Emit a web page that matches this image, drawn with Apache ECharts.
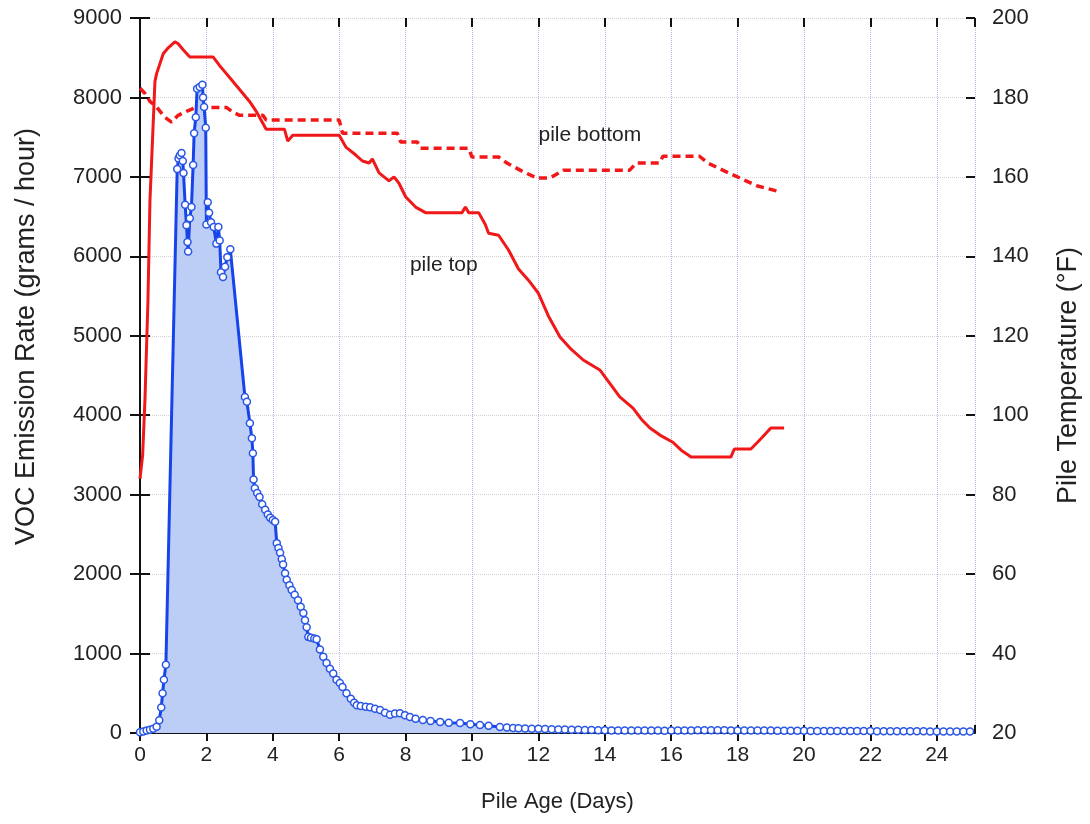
<!DOCTYPE html>
<html>
<head>
<meta charset="utf-8">
<script src="https://cdn.jsdelivr.net/npm/echarts@6/dist/echarts.min.js"></script>
<style>
  html, body { margin: 0; padding: 0; background: #fff; }
  #chart { width: 1090px; height: 824px; }
</style>
</head>
<body>
<div id="chart"></div>
<script>
// Pile age (days) and VOC emission rate (g/h)
const vocDay = [
  0.00, 0.10, 0.20, 0.30, 0.40, 0.50, 0.58, 0.64, 0.68, 0.72, 0.78,
  1.12, 1.16, 1.20, 1.25, 1.29, 1.31, 1.36, 1.40, 1.43, 1.45, 1.50, 1.55, 1.60, 1.63, 1.68, 1.72,
  1.80, 1.88, 1.90, 1.93, 1.98, 2.00, 2.04, 2.08, 2.14, 2.22, 2.30, 2.36, 2.40, 2.44, 2.50, 2.56, 2.63, 2.72,
  3.16, 3.22, 3.31, 3.37, 3.40, 3.42, 3.46, 3.53, 3.60, 3.68, 3.77, 3.85, 3.92, 4.00, 4.07,
  4.12, 4.17, 4.22, 4.27, 4.31, 4.37, 4.42, 4.50, 4.57, 4.66, 4.76, 4.84, 4.92, 4.97, 5.02, 5.07,
  5.15, 5.25, 5.32, 5.42, 5.52, 5.62, 5.72, 5.82, 5.92, 6.02, 6.10, 6.22, 6.35, 6.45, 6.53, 6.65,
  6.80, 6.93, 7.08, 7.23, 7.38, 7.53, 7.68, 7.83, 7.98, 8.13, 8.30, 8.52, 8.75, 9.04, 9.30, 9.64,
  9.95, 10.24, 10.50, 10.84, 11.05, 11.24,
  11.4, 11.6, 11.8, 12.0, 12.2, 12.4, 12.6, 12.8, 13.0, 13.2, 13.4, 13.6, 13.8, 14.0, 14.2, 14.4,
  14.6, 14.8, 15.0, 15.2, 15.4, 15.6, 15.8, 16.0, 16.2, 16.4, 16.6, 16.8, 17.0, 17.2, 17.4, 17.6,
  17.8, 18.0, 18.2, 18.4, 18.6, 18.8, 19.0, 19.2, 19.4, 19.6, 19.8, 20.0, 20.2, 20.4, 20.6, 20.8,
  21.0, 21.2, 21.4, 21.6, 21.8, 22.0, 22.2, 22.4, 22.6, 22.8, 23.0, 23.2, 23.4, 23.6, 23.8, 24.0,
  24.2, 24.4, 24.6, 24.8, 25.0
];
const vocRate = [
  10, 20, 30, 40, 55, 80, 160, 320, 500, 670, 860,
  7100, 7230, 7270, 7300, 7200, 7050, 6650, 6390, 6180, 6060, 6480, 6620, 7150, 7550, 7750, 8110,
  8130, 8160, 8000, 7880, 7620, 6400, 6680, 6550, 6430, 6370, 6160, 6370, 6200, 5800, 5740, 5870, 5990, 6090,
  4230, 4170, 3900, 3710, 3520, 3190, 3080, 3020, 2970, 2880, 2810, 2750, 2710, 2680, 2660,
  2390, 2330, 2270, 2190, 2120, 2010, 1930, 1860, 1800, 1740, 1670, 1590, 1510, 1420, 1330, 1210,
  1200, 1190, 1180, 1050, 960, 880, 810, 750, 670, 630, 580, 500, 430, 380, 350, 340,
  330, 325, 305, 290, 255, 230, 245, 250, 225, 200, 180, 165, 150, 140, 130, 125,
  110, 100, 90, 75, 70, 63,
  60, 57, 55, 52, 50, 47, 45, 44, 42, 40, 38, 37, 35, 34, 33, 32,
  32, 31, 30, 30, 31, 30, 29, 30, 31, 32, 33, 34, 35, 35, 34, 34,
  33, 32, 31, 30, 30, 31, 30, 29, 28, 28, 27, 27, 26, 26, 25, 26,
  26, 25, 25, 24, 24, 24, 23, 23, 22, 22, 22, 21, 21, 21, 20, 20,
  20, 19, 19, 19, 18
];

// Pile top temperature (°F)
const topDay = [
  0.00, 0.08, 0.15, 0.24, 0.30, 0.35, 0.45, 0.50, 0.70, 0.85, 1.05, 1.15, 1.30, 1.50, 2.20, 2.40,
  2.55, 2.70, 3.00, 3.30, 3.50, 3.70, 3.80, 4.35, 4.45, 4.60, 6.00, 6.20, 6.50, 6.70, 6.90, 7.00,
  7.20, 7.50, 7.65, 7.80, 8.00, 8.30, 8.60, 9.70, 9.80, 9.90, 10.20, 10.40, 10.50, 10.80, 11.10,
  11.40, 11.70, 12.00, 12.30, 12.65, 12.95, 13.35, 13.85, 14.15, 14.45, 14.85, 15.10, 15.36, 15.66,
  16.05, 16.30, 16.60, 17.80, 17.90, 18.40, 18.60, 18.75, 19.00, 19.40
];
const topTemp = [
  84, 90, 104, 129, 154, 164, 184, 186, 191, 192.5, 194, 193.5, 192, 190.2, 190.2, 188,
  186.5, 185, 182, 179, 176.5, 173.5, 172, 172, 169, 170.5, 170.5, 167.5, 165.5, 164, 163.5, 164.5,
  161, 159, 160, 158.4, 155, 152.4, 151, 151, 152.4, 151, 151, 148, 145.8, 145.3, 141.6,
  136.8, 134, 130.7, 125, 119.7, 116.9, 113.9, 111.4, 108, 104.6, 101.8, 99, 96.8, 95,
  93.2, 91.2, 89.5, 89.5, 91.5, 91.5, 93.2, 94.5, 96.8, 96.8
];

// Pile bottom temperature (°F)
const bottomDay = [
  0.00, 0.15, 0.30, 0.50, 0.75, 0.95, 1.15, 1.40, 1.70, 2.60, 2.80, 3.00, 3.70, 3.80, 6.00, 6.10,
  7.75, 7.85, 8.35, 8.45, 9.90, 10.00, 10.80, 11.05, 11.45, 11.95, 12.35, 12.75, 14.75, 14.95,
  15.65, 15.75, 16.85, 17.10, 17.55, 18.07, 18.60, 19.30
];
const bottomTemp = [
  182.3, 181, 179, 177.6, 175, 173.8, 175.5, 176.5, 177.5, 177.5, 176.3, 175.5, 175.5, 174.3, 174.3, 171,
  171, 168.8, 168.8, 167.2, 167.2, 165, 165, 163.5, 161.7, 159.7, 159.7, 161.7, 161.7, 163.5,
  163.5, 165.2, 165.2, 163.5, 161.7, 159.7, 157.7, 156.2
];

const pairs = (xs, ys) => xs.map((x, i) => [x, ys[i]]);

const FONT = '"Liberation Sans", Arial, sans-serif';
const TEXT = '#222';
const DAY_MAX = 25.15;
const plain = v => String(v);

const chart = echarts.init(document.getElementById('chart'), null, { renderer: 'canvas' });

// shared scale settings; the duplicated axes give ticks that cross the axis lines
const xBase = { type: 'value', min: 0, max: DAY_MAX, interval: 2 };
const rateBase = { type: 'value', min: 0, max: 9000, interval: 1000 };
const tempBase = { type: 'value', min: 20, max: 200, interval: 20 };
const blackLine = { show: true, lineStyle: { color: '#111', width: 2 } };

chart.setOption({
  animation: false,
  backgroundColor: '#fff',
  textStyle: { fontFamily: FONT },
  grid: { left: 140, right: 114, top: 18, bottom: 91, containLabel: false },
  xAxis: [
    Object.assign({}, xBase, {
      position: 'bottom',
      name: 'Pile Age (Days)',
      nameLocation: 'middle',
      nameGap: 58,
      nameTextStyle: { fontFamily: FONT, fontSize: 22, color: TEXT },
      axisLine: { show: true, lineStyle: { color: '#9a9a9a', width: 1 } },
      axisTick: { show: true, inside: false, length: 8, lineStyle: { color: '#111', width: 2 } },
      axisLabel: { fontFamily: FONT, fontSize: 21, color: TEXT, margin: 12, showMaxLabel: false, formatter: plain },
      splitLine: { show: true, lineStyle: { type: 'dotted', color: '#b4b4e8', width: 1 } }
    }),
    Object.assign({}, xBase, {
      position: 'top',
      axisLine: blackLine,
      axisTick: { show: true, inside: false, length: 8, lineStyle: { color: '#111', width: 2 } },
      axisLabel: { show: false },
      splitLine: { show: false }
    }),
    Object.assign({}, xBase, {
      position: 'top',
      axisLine: { show: false },
      axisTick: { show: true, inside: true, length: 9, lineStyle: { color: '#111', width: 2 } },
      axisLabel: { show: false },
      splitLine: { show: false }
    })
  ],
  yAxis: [
    Object.assign({}, rateBase, {
      position: 'left',
      name: 'VOC Emission Rate (grams / hour)',
      nameLocation: 'middle',
      nameRotate: 90,
      nameGap: 100,
      nameTextStyle: { fontFamily: FONT, fontSize: 27, color: TEXT, padding: [0, 0, 0, 78] },
      axisLine: blackLine,
      axisTick: { show: true, inside: false, length: 10, lineStyle: { color: '#111', width: 2 } },
      axisLabel: { fontFamily: FONT, fontSize: 22, color: TEXT, margin: 18, formatter: plain },
      splitLine: { show: true, lineStyle: { type: 'dotted', color: '#d2d2d2', width: 1 } }
    }),
    Object.assign({}, tempBase, {
      position: 'right',
      name: 'Pile Temperature (°F)',
      nameLocation: 'middle',
      nameRotate: 90,
      nameGap: 80,
      nameTextStyle: { fontFamily: FONT, fontSize: 27, color: TEXT },
      axisLine: blackLine,
      axisTick: { show: true, inside: false, length: 9, lineStyle: { color: '#111', width: 2 } },
      axisLabel: { fontFamily: FONT, fontSize: 22, color: TEXT, margin: 17, formatter: plain },
      splitLine: { show: false }
    }),
    Object.assign({}, rateBase, {
      position: 'left',
      axisLine: { show: false },
      axisTick: { show: true, inside: true, length: 10, lineStyle: { color: '#111', width: 2 } },
      axisLabel: { show: false },
      splitLine: { show: false }
    }),
    Object.assign({}, tempBase, {
      position: 'right',
      axisLine: { show: false },
      axisTick: { show: true, inside: true, length: 9, lineStyle: { color: '#111', width: 2 } },
      axisLabel: { show: false },
      splitLine: { show: false }
    })
  ],
  series: [
    {
      name: 'pile top',
      type: 'line',
      xAxisIndex: 0,
      yAxisIndex: 1,
      data: pairs(topDay, topTemp),
      showSymbol: false,
      symbol: 'none',
      lineStyle: { color: '#f01818', width: 3 },
      z: 3,
      markPoint: {
        symbol: 'rect',
        symbolSize: 1,
        itemStyle: { color: 'rgba(0,0,0,0)' },
        label: { show: true, position: 'inside', fontFamily: FONT, fontSize: 21, color: TEXT },
        data: [{ coord: [9.15, 137.8], label: { formatter: 'pile top' } }]
      }
    },
    {
      name: 'pile bottom',
      type: 'line',
      xAxisIndex: 0,
      yAxisIndex: 1,
      data: pairs(bottomDay, bottomTemp),
      showSymbol: false,
      symbol: 'none',
      lineStyle: { color: '#f01818', width: 3.5, type: [8, 5] },
      z: 3,
      markPoint: {
        symbol: 'rect',
        symbolSize: 1,
        itemStyle: { color: 'rgba(0,0,0,0)' },
        label: { show: true, position: 'inside', fontFamily: FONT, fontSize: 21, color: TEXT },
        data: [{ coord: [13.55, 170.5], label: { formatter: 'pile bottom' } }]
      }
    },
    {
      name: 'VOC',
      type: 'line',
      xAxisIndex: 0,
      yAxisIndex: 0,
      data: pairs(vocDay, vocRate),
      symbol: 'circle',
      symbolSize: 7,
      showSymbol: true,
      showAllSymbol: true,
      itemStyle: { color: '#ffffff', borderColor: '#2a56e6', borderWidth: 1.5 },
      lineStyle: { color: '#1644ea', width: 3 },
      areaStyle: { color: '#bccdf6', opacity: 1 },
      z: 4
    }
  ]
});
</script>
</body>
</html>
